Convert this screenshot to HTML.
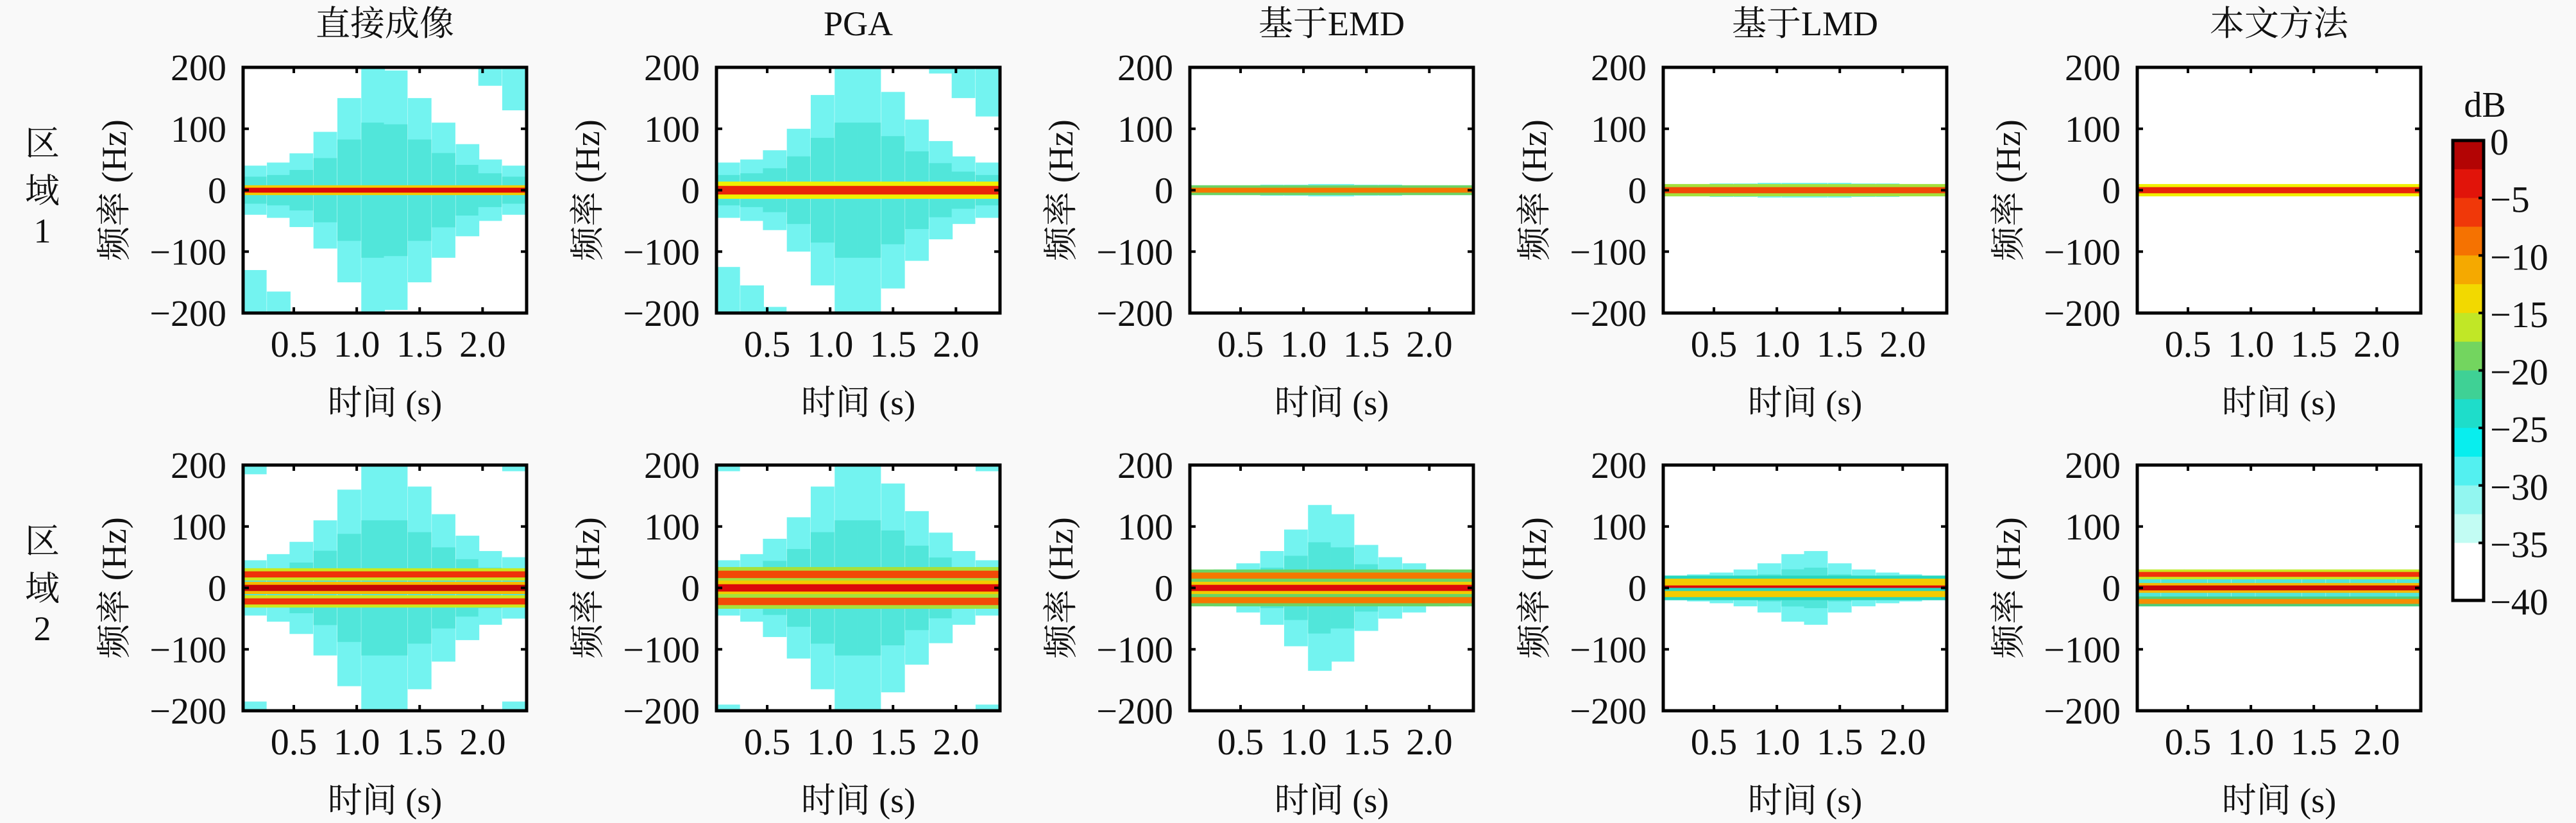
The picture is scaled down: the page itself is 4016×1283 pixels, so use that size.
<!DOCTYPE html>
<html><head><meta charset="utf-8"><style>
html,body{margin:0;padding:0;background:#f9f9f9;}
svg{display:block;}
text{font-family:"Liberation Serif","Noto Serif CJK SC","Noto Sans CJK SC",serif;fill:#111;}
</style></head><body>
<svg id="fig" width="4016" height="1283" viewBox="0 0 4016 1283" xmlns="http://www.w3.org/2000/svg"></svg>
<script>
// ---- data ----
const colTitles = ["直接成像","PGA","基于EMD","基于LMD","本文方法"];
const rowLabels = ["1","2"];
const xTicks = [0.5,1.0,1.5,2.0];
const xTickLabels = ["0.5","1.0","1.5","2.0"];
const yTicks = [200,100,0,-100,-200];
const yTickLabels = ["200","100","0","\u2212100","\u2212200"];
const cbTicks = [0,-5,-10,-15,-20,-25,-30,-35,-40];
const cbTickLabels = ["0","\u22125","\u221210","\u221215","\u221220","\u221225","\u221230","\u221235","\u221240"];
const timeBins = [0.19,0.38,0.56,0.75,0.94,1.13,1.31,1.50,1.69,1.88,2.06,2.25];
// noise spread half-width (Hz) per time bin, per panel [row][col]
const spread = [
 [[40,45,60,95,150,200,195,150,110,75,50,40],
  [45,50,65,100,155,200,200,160,115,80,55,45],
  [8,8,8,9,9,10,10,9,9,8,8,8],
  [10,10,11,11,12,12,12,12,11,11,10,10],
  [8,8,8,9,9,9,9,9,9,8,8,8]],
 [[45,55,75,110,160,200,200,165,120,85,60,50],
  [45,55,80,115,165,200,200,170,125,90,60,45],
  [28,30,40,60,95,135,120,70,50,40,30,28],
  [20,22,25,30,40,55,60,40,30,25,22,20],
  [30,30,30,30,30,30,30,30,30,30,30,30]]
];
// aliasing corner patches: extent (Hz) inward from +200 and from -200 per time bin
const edgeTop = [
 [[0,0,0,0,0,0,0,0,0,0,30,70],[0,0,0,0,0,0,0,0,0,10,50,80],[0,0,0,0,0,0,0,0,0,0,0,0],[0,0,0,0,0,0,0,0,0,0,0,0],[0,0,0,0,0,0,0,0,0,0,0,0]],
 [[15,0,0,0,0,0,0,0,0,0,0,10],[10,0,0,0,0,0,0,0,0,0,0,10],[0,0,0,0,0,0,0,0,0,0,0,0],[0,0,0,0,0,0,0,0,0,0,0,0],[0,0,0,0,0,0,0,0,0,0,0,0]]
];
const edgeBot = [
 [[70,35,0,0,0,0,0,0,0,0,0,0],[75,45,10,0,0,0,0,0,0,0,0,0],[0,0,0,0,0,0,0,0,0,0,0,0],[0,0,0,0,0,0,0,0,0,0,0,0],[0,0,0,0,0,0,0,0,0,0,0,0]],
 [[15,0,0,0,0,0,0,0,0,0,0,15],[10,0,0,0,0,0,0,0,0,0,0,10],[0,0,0,0,0,0,0,0,0,0,0,0],[0,0,0,0,0,0,0,0,0,0,0,0],[0,0,0,0,0,0,0,0,0,0,0,0]]
];
// spectral lines: centre (Hz), half-width (Hz), level (dB)
const bandFreq = [[[0],[0],[0],[0],[0]],[[22,0,-22],[22,0,-22],[20,0,-20],[10,0,-10],[22,0,-22]]];
const bandHalf = [[[4],[7],[4],[5],[5]],[[5,5,5],[6,6,6],[5,5,5],[5,4,5],[4,4,4]]];
const bandDb   = [[[-3],[-5],[-9],[-7],[-5]],[[-6,-2,-6],[-7,-3,-7],[-9,-3,-9],[-13,-3,-13],[-6,-2,-10]]];

// ---- layout ----
const NS="http://www.w3.org/2000/svg";
const svg=document.getElementById('fig');
const colX=[379,1117,1855,2593,3332], PW=442;
const rowY=[105,725], PH=383;
const T0=0.097,T1=2.35,F0=-200,F1=200;
function mk(tag,attrs,parent){const e=document.createElementNS(NS,tag);for(const k in attrs)e.setAttribute(k,attrs[k]);(parent||svg).appendChild(e);return e;}
const stops=[[-40,[255,255,255]],[-36,[255,255,255]],[-35,[215,255,245]],[-32,[165,248,240]],[-29,[90,240,240]],[-26,[0,238,238]],[-23,[40,215,190]],[-20,[80,205,120]],[-17,[165,225,60]],[-15,[240,240,0]],[-12,[245,185,0]],[-9,[245,120,0]],[-6,[240,50,10]],[-3,[220,10,10]],[0,[150,0,0]]];
function cmap(d){d=Math.max(-40,Math.min(0,d));for(let i=1;i<stops.length;i++){if(d<=stops[i][0]){const a=stops[i-1],b=stops[i];const t=(d-a[0])/(b[0]-a[0]);const c=a[1].map((v,j)=>Math.round(v+(b[1][j]-v)*t));return `rgb(${c})`;}}return 'rgb(150,0,0)';}

for(let r=0;r<2;r++)for(let c=0;c<5;c++){
  const X0=colX[c],Y0=rowY[r];
  const xs=t=>X0+(t-T0)/(T1-T0)*PW;
  const ys=f=>Y0+(F1-f)/(F1-F0)*PH;
  const g=mk('g',{});
  
  
  mk('rect',{x:X0,y:Y0,width:PW,height:PH,fill:'#ffffff'},g);
  const bw=(T1-T0)/timeBins.length;
  timeBins.forEach((t,i)=>{
    const xa=xs(t-bw/2),xb=xs(t+bw/2);
    const s=spread[r][c][i];
    const outer=mk('rect',{x:xa,y:ys(s),width:xb-xa,height:ys(-s)-ys(s),fill:cmap(-30)},g);
    
    
    const s2=s*0.55;
    const inner=mk('rect',{x:xa,y:ys(s2),width:xb-xa,height:ys(-s2)-ys(s2),fill:cmap(-23),opacity:0.45},g);
    
    
    const et=edgeTop[r][c][i];
    if(et>0){const e=mk('rect',{x:xa,y:ys(200),width:xb-xa,height:ys(200-et)-ys(200),fill:cmap(-30)},g);
      
      }
    const eb=edgeBot[r][c][i];
    if(eb>0){const e=mk('rect',{x:xa,y:ys(-200+eb),width:xb-xa,height:ys(-200)-ys(-200+eb),fill:cmap(-30)},g);
      
      }
  });
  bandFreq[r][c].forEach((f,k)=>{
    const h=bandHalf[r][c][k];
    const b=mk('rect',{x:X0,y:ys(f+h*2),width:PW,height:ys(f-h*2)-ys(f+h*2),fill:cmap(bandDb[r][c][k]-10)},g);
    
    
    const l=mk('rect',{x:X0,y:ys(f+h),width:PW,height:ys(f-h)-ys(f+h),fill:cmap(bandDb[r][c][k])},g);
    
    
  });
  // ticks
  xTicks.forEach((t,i)=>{
    mk('line',{x1:xs(t),x2:xs(t),y1:Y0,y2:Y0+9,stroke:'#000','stroke-width':4},g);
    mk('line',{x1:xs(t),x2:xs(t),y1:Y0+PH,y2:Y0+PH-9,stroke:'#000','stroke-width':4},g);
    const tx=mk('text',{x:xs(t),y:Y0+PH+68,'font-size':58,'text-anchor':'middle'},g);
    tx.textContent=xTickLabels[i];
    
    
  });
  yTicks.forEach((f,i)=>{
    mk('line',{x1:X0,x2:X0+9,y1:ys(f),y2:ys(f),stroke:'#000','stroke-width':4},g);
    mk('line',{x1:X0+PW,x2:X0+PW-9,y1:ys(f),y2:ys(f),stroke:'#000','stroke-width':4},g);
    const tx=mk('text',{x:X0-26,y:ys(f)+20,'font-size':58,'text-anchor':'end'},g);
    tx.textContent=yTickLabels[i];
    
    
  });
  mk('rect',{x:X0,y:Y0,width:PW,height:PH,fill:'none',stroke:'#000','stroke-width':5},g);
  const xl=mk('text',{x:X0+PW/2,y:Y0+PH+158,'font-size':54,'text-anchor':'middle'},g);
  xl.textContent='时间 (s)';
  
  
  const yl=mk('text',{x:0,y:0,'font-size':54,'text-anchor':'middle',transform:`translate(${X0-183},${Y0+PH/2}) rotate(-90)`},g);
  yl.textContent='频率 (Hz)';
  
  
  if(r===0){
    const tt=mk('text',{x:X0+PW/2,y:55,'font-size':54,'text-anchor':'middle'},g);
    tt.textContent=colTitles[c];
    
    
  }
}
// row labels
rowLabels.forEach((lab,r)=>{
  const dy=r*620;
  const g=mk('g',{});
  
  
  [['区',242],['域',316],[lab,378]].forEach(([ch,y])=>{
    const t=mk('text',{x:66,y:y+dy,'font-size':54,'text-anchor':'middle'},g);t.textContent=ch;
  });
});
// colorbar
const CBX=3824,CBW=48,CBY=219,CBH=717;
const cbg=mk('g',{});


const cy=d=>CBY+(-d)/40*CBH;
for(let d=0;d>-40;d-=2.5){
  mk('rect',{x:CBX,y:cy(d),width:CBW,height:cy(d-2.5)-cy(d)+0.5,fill:cmap(d-1.25)},cbg);
}
mk('rect',{x:CBX,y:CBY,width:CBW,height:CBH,fill:'none',stroke:'#000','stroke-width':5},cbg);
cbTicks.forEach((d,i)=>{
  mk('line',{x1:CBX+CBW,x2:CBX+CBW-8,y1:cy(d),y2:cy(d),stroke:'#000','stroke-width':4},cbg);
  const t=mk('text',{x:CBX+58,y:cy(d)+22,'font-size':58},cbg);
  t.textContent=cbTickLabels[i];
  
  
});
const db=mk('text',{x:CBX+50,y:182,'font-size':56,'text-anchor':'middle'},cbg);
db.textContent='dB';


</script>
</body></html>
